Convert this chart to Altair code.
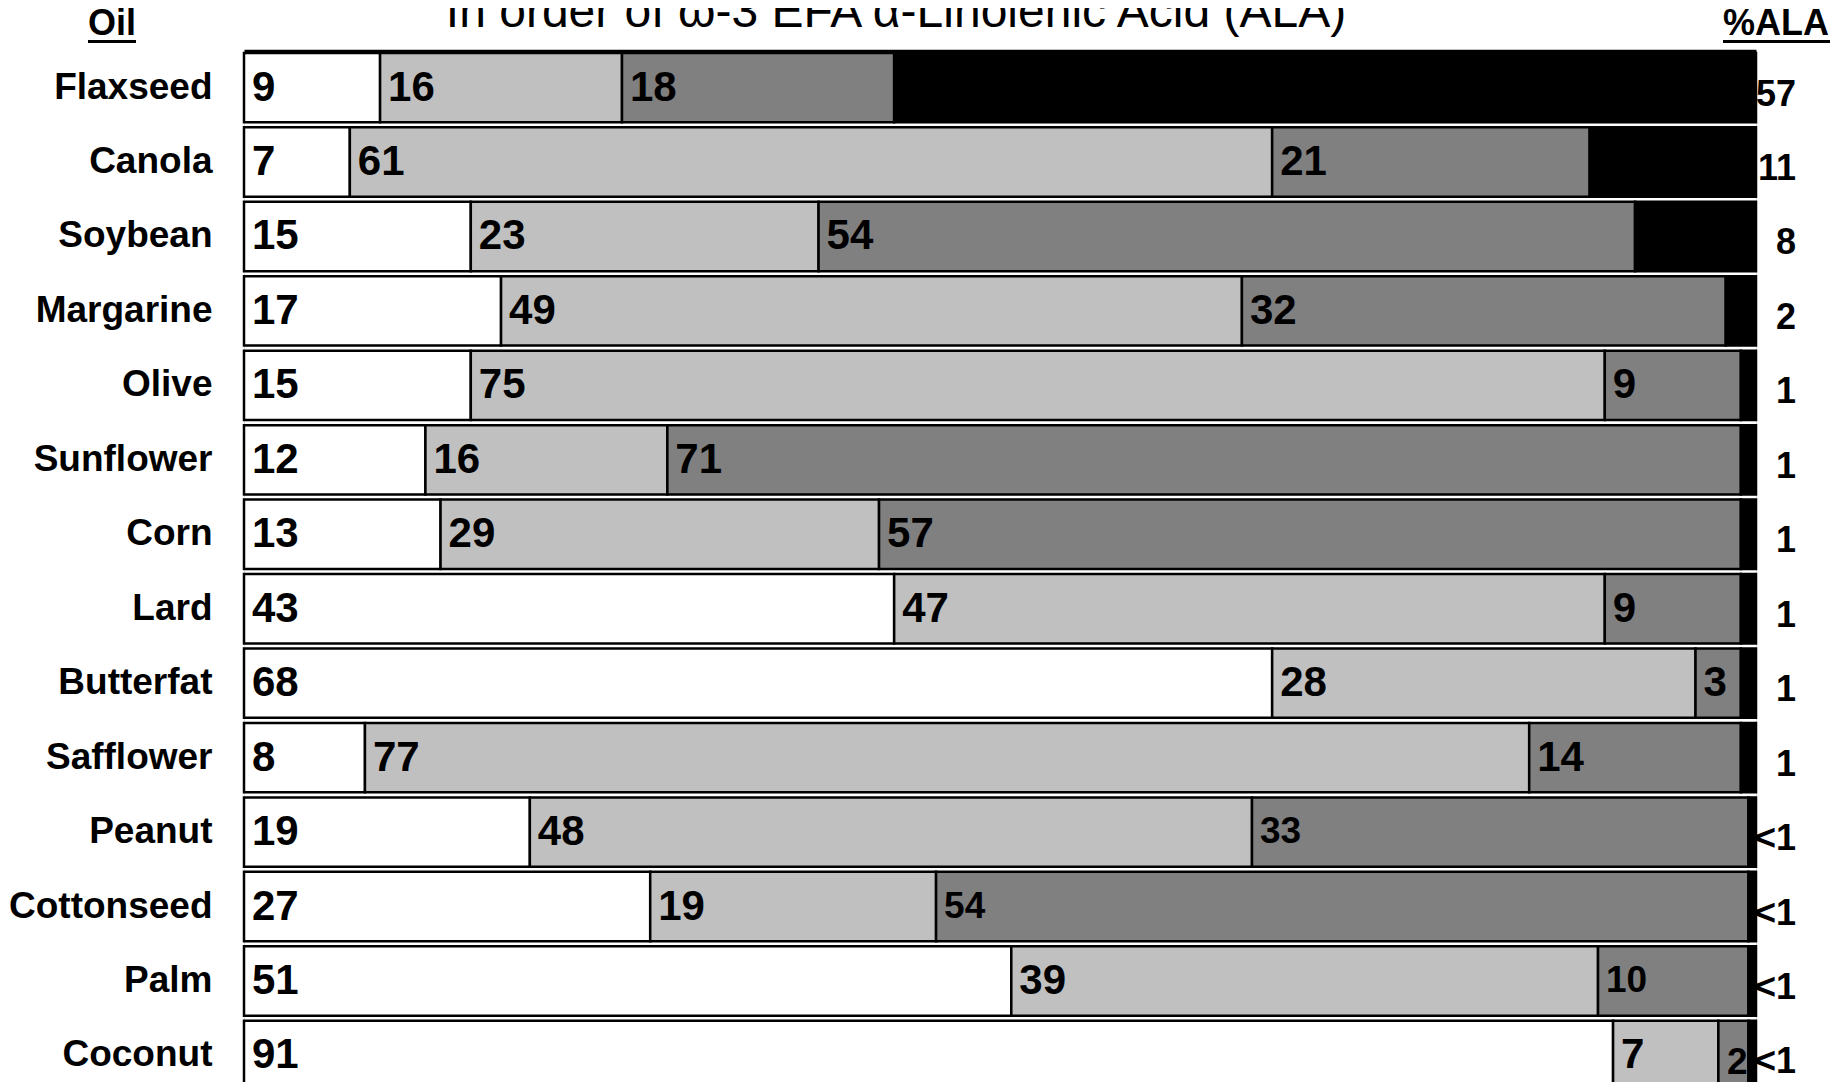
import altair as alt
import pandas as pd

# ---- data ----
oils = ["Flaxseed", "Canola", "Soybean", "Margarine", "Olive", "Sunflower", "Corn",
        "Lard", "Butterfat", "Safflower", "Peanut", "Cottonseed", "Palm", "Coconut"]
saturated = [9, 7, 15, 17, 15, 12, 13, 43, 68, 8, 19, 27, 51, 91]
monounsaturated = [16, 61, 23, 49, 75, 16, 29, 47, 28, 77, 48, 19, 39, 7]
linoleic = [18, 21, 54, 32, 9, 71, 57, 9, 3, 14, 33, 54, 10, 2]
ala = [57, 11, 8, 2, 1, 1, 1, 1, 1, 1, 0.5, 0.5, 0.5, 0.5]
ala_labels = ["57", "11", "8", "2", "1", "1", "1", "1", "1", "1", "<1", "<1", "<1", "<1"]
categories = ["Saturated", "Monounsaturated", "ω-6 Linoleic Acid (LA)", "ω-3 α-Linolenic Acid (ALA)"]
colors = ["#FFFFFF", "#C0C0C0", "#808080", "#000000"]

title_text = "In order of ω-3 EFA α-Linolenic Acid (ALA)"

rows = []
for i, oil in enumerate(oils):
    vals = [saturated[i], monounsaturated[i], linoleic[i], ala[i]]
    for k, cat in enumerate(categories):
        lab = ala_labels[i] if k == 3 else str(vals[k])
        rows.append({"oil": oil, "category": cat, "order": k, "value": vals[k],
                     "label": lab, "ala_label": ala_labels[i]})
df = pd.DataFrame(rows)

FONT = "Liberation Sans"

base = alt.Chart(df).transform_stack(
    stack="value", groupby=["oil"], as_=["start", "end"],
    offset="normalize", sort=[alt.SortField("order", order="ascending")]
)

yenc = alt.Y("oil:N", sort=oils,
             scale=alt.Scale(range=[0.9, 1038.1], paddingInner=0.0685, paddingOuter=0),
             axis=alt.Axis(title=None, domain=False, ticks=False, labelFont=FONT,
                           labelFontWeight="bold", labelFontSize=37, labelColor="black",
                           labelPadding=32, labelLimit=400))
xenc_start = alt.X("start:Q", scale=alt.Scale(domain=[0, 1], nice=False),
                   axis=alt.Axis(orient="top", labels=False, ticks=False, grid=False,
                                 title=None, domain=True, domainColor="black",
                                 domainWidth=5.5))

bars = base.mark_bar(stroke="black", strokeWidth=2.5).encode(
    x=xenc_start,
    x2="end:Q",
    y=yenc,
    color=alt.Color("category:N", scale=alt.Scale(domain=categories, range=colors), legend=None),
)

small_test = (alt.datum.order == 2) & (alt.datum.ala_label == "<1")

labels_wide = base.transform_filter(
    (alt.datum.order < 3) & (alt.datum.value >= 3)
).mark_text(align="left", baseline="middle", dx=8, font=FONT, fontWeight="bold",
            color="black").encode(
    x="start:Q", y=alt.Y("oil:N", sort=oils), text="label:N",
    size=alt.condition(small_test, alt.value(37), alt.value(42)),
)

labels_narrow = base.transform_filter(
    (alt.datum.order < 3) & (alt.datum.value < 3)
).mark_text(align="right", baseline="middle", dx=-1, dy=8, font=FONT, fontWeight="bold",
            color="black").encode(
    x="end:Q", y=alt.Y("oil:N", sort=oils), text="label:N",
    size=alt.condition(small_test, alt.value(37), alt.value(42)),
)

ala_text = alt.Chart(df).transform_filter(alt.datum.order == 3).mark_text(
    align="right", baseline="middle", dx=40, dy=7, font=FONT, fontWeight="bold",
    fontSize=36, color="black").encode(
    x=alt.datum(1), y=alt.Y("oil:N", sort=oils), text="label:N")

hdr = pd.DataFrame({"t": [title_text]})
title_mark = alt.Chart(hdr).mark_text(align="center", baseline="alphabetic", font=FONT,
                                      fontSize=48, color="black").encode(
    text="t:N", x=alt.value(652), y=alt.value(-25))

oil_hdr = alt.Chart(pd.DataFrame({"t": ["Oil"]})).mark_text(
    align="center", baseline="alphabetic", font=FONT, fontWeight="bold", fontSize=36,
    color="black").encode(text="t:N", x=alt.value(-132), y=alt.value(-17))
ala_hdr = alt.Chart(pd.DataFrame({"t": ["%ALA"]})).mark_text(
    align="center", baseline="alphabetic", font=FONT, fontWeight="bold", fontSize=36,
    color="black").encode(text="t:N", x=alt.value(1532), y=alt.value(-17))

oil_ul = alt.Chart(pd.DataFrame({"t": ["Oil"]})).mark_rule(color="black", strokeWidth=3).encode(
    x=alt.value(-156), x2=alt.value(-108), y=alt.value(-10.5))
ala_ul = alt.Chart(pd.DataFrame({"t": ["%ALA"]})).mark_rule(color="black", strokeWidth=3).encode(
    x=alt.value(1479), x2=alt.value(1586), y=alt.value(-10.5))

chart = alt.layer(bars, labels_wide, labels_narrow, ala_text, title_mark, oil_hdr, ala_hdr,
                  oil_ul, ala_ul).properties(
    width=1512, height=1030,
    autosize=alt.AutoSizeParams(type="none"),
    padding={"left": 236, "top": 44, "right": 80, "bottom": 0},
).configure_view(stroke=None).configure(background="white")

chart.save("out.html", embed_options={"renderer": "svg", "actions": False})
